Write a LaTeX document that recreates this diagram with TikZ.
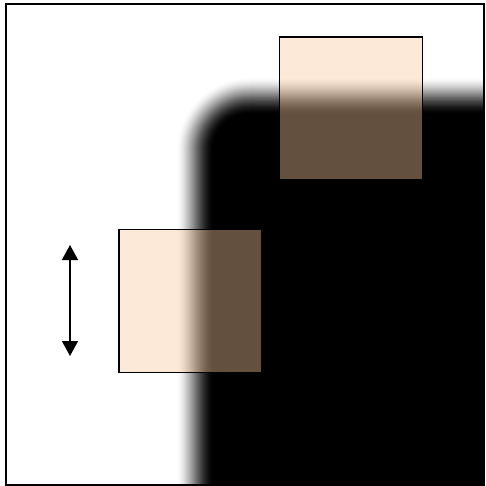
\documentclass[tikz,border=0pt]{standalone}
\usetikzlibrary{arrows.meta}
\definecolor{peach}{RGB}{252,202,156}
\begin{document}
\begin{tikzpicture}[x=1pt,y=-1pt,
  sqbox/.style={draw=black,line width=1.4pt,fill=peach,fill opacity=0.4,minimum width=143pt,minimum height=143pt,inner sep=0pt,outer sep=0pt},
  framebox/.style={draw=black,line width=1.4pt}]
\useasboundingbox (0,0) rectangle (485,486);
\fill[white] (0,0) rectangle (485,486);
% blurred black rounded shape
\begin{scope}
\clip (6,4) rectangle (484,485);
\foreach \m in {1,...,40}{
  \pgfmathsetmacro{\t}{\m/40}
  \pgfmathsetmacro{\tp}{(\m-1)/40}
  \pgfmathsetmacro{\c}{3*\t*\t-2*\t*\t*\t}
  \pgfmathsetmacro{\cp}{3*\tp*\tp-2*\tp*\tp*\tp}
  \pgfmathsetmacro{\a}{min(1,(\c-\cp)/(1-\cp))}
  \pgfmathsetmacro{\d}{-20+40*(\m-0.5)/40}
  \pgfmathsetmacro{\rr}{max(4,55-\d)}
  \fill[black,fill opacity=\a,rounded corners=\rr pt] (195+\d,96+\d) rectangle (620,620);
}
\end{scope}
\node[sqbox] (top) at (351,108.5) {};
\node[sqbox] (low) at (190.5,301) {};
\draw[framebox] (6,4) rectangle (484,485);
\coordinate (atop) at (70,245);
\coordinate (abot) at (70,356);
\draw[line width=1.4pt,{Triangle[width=16pt,length=15pt]}-{Triangle[width=16pt,length=15pt]}] (atop) -- (abot);
\end{tikzpicture}
\end{document}
